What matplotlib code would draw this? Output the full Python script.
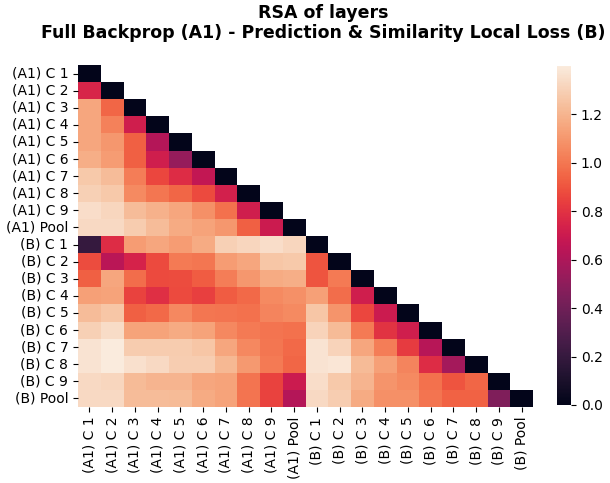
import numpy as np
import matplotlib
matplotlib.use("Agg")
import matplotlib.pyplot as plt
import seaborn as sns

# layer names
labels = ["(A1) C 1", "(A1) C 2", "(A1) C 3", "(A1) C 4", "(A1) C 5",
          "(A1) C 6", "(A1) C 7", "(A1) C 8", "(A1) C 9", "(A1) Pool",
          "(B) C 1", "(B) C 2", "(B) C 3", "(B) C 4", "(B) C 5",
          "(B) C 6", "(B) C 7", "(B) C 8", "(B) C 9", "(B) Pool"]

# strictly lower triangle, row by row (diagonal is 0)
lower_rows = [
    [],
    [0.75],
    [1.15, 0.95],
    [1.15, 1.03, 0.72],
    [1.15, 1.10, 0.93, 0.62],
    [1.18, 1.12, 0.93, 0.72, 0.52],
    [1.27, 1.23, 1.02, 0.86, 0.78, 0.67],
    [1.30, 1.27, 1.06, 1.00, 0.95, 0.87, 0.73],
    [1.35, 1.32, 1.23, 1.19, 1.15, 1.08, 0.98, 0.72],
    [1.33, 1.33, 1.28, 1.23, 1.17, 1.14, 1.10, 0.93, 0.70],
    [0.20, 0.78, 1.12, 1.15, 1.12, 1.17, 1.30, 1.32, 1.35, 1.32],
    [0.88, 0.64, 0.74, 0.87, 1.01, 1.00, 1.12, 1.15, 1.26, 1.27, 0.90],
    [0.93, 1.15, 0.97, 0.87, 0.88, 0.92, 1.02, 1.10, 1.17, 1.18, 0.90, 1.01],
    [1.13, 1.14, 0.85, 0.79, 0.87, 0.84, 0.92, 0.96, 1.06, 1.08, 1.13, 0.97, 0.72],
    [1.23, 1.26, 0.93, 0.96, 1.05, 1.00, 0.99, 0.98, 1.04, 1.06, 1.26, 1.09, 0.86, 0.70],
    [1.30, 1.34, 1.14, 1.14, 1.17, 1.14, 1.05, 1.01, 0.99, 0.98, 1.31, 1.22, 1.01, 0.80, 0.72],
    [1.37, 1.40, 1.28, 1.28, 1.28, 1.26, 1.15, 1.05, 1.00, 0.96, 1.37, 1.31, 1.15, 1.02, 0.83, 0.63],
    [1.37, 1.40, 1.36, 1.33, 1.29, 1.29, 1.21, 1.11, 1.01, 0.95, 1.37, 1.38, 1.22, 1.13, 1.04, 0.78, 0.57],
    [1.33, 1.32, 1.22, 1.20, 1.20, 1.15, 1.14, 0.99, 0.85, 0.70, 1.35, 1.27, 1.20, 1.09, 1.06, 0.98, 0.90, 0.95],
    [1.33, 1.33, 1.23, 1.23, 1.22, 1.17, 1.14, 0.99, 0.85, 0.62, 1.33, 1.29, 1.17, 1.08, 1.08, 0.99, 0.94, 0.94, 0.45],
]

n = len(labels)
rsa = np.zeros((n, n))
for i, row in enumerate(lower_rows):
    for j, v in enumerate(row):
        rsa[i, j] = v
        rsa[j, i] = v

mask = np.triu(np.ones((n, n), dtype=bool), k=1)

fig = plt.figure(figsize=(6.1, 4.83), dpi=100)
ax = fig.add_axes([78 / 610, 76 / 483, 455 / 610, 342 / 483])
cax = fig.add_axes([557 / 610, 78 / 483, 14 / 610, 339 / 483])

sns.heatmap(rsa, mask=mask, cmap="rocket", vmin=0, vmax=1.4,
            xticklabels=labels, yticklabels=labels, ax=ax, cbar_ax=cax)
ax.set_xticklabels(labels, rotation=90)
ax.set_yticklabels(labels, rotation=0)
cax.set_yticks([0.0, 0.2, 0.4, 0.6, 0.8, 1.0, 1.2])

fig.text(323 / 610, 1 - 23 / 483, "RSA of layers\nFull Backprop (A1) - Prediction & Similarity Local Loss (B)",
         ha="center", va="center", fontsize=12.5, fontweight="bold")

fig.savefig("out.png", dpi=100)
